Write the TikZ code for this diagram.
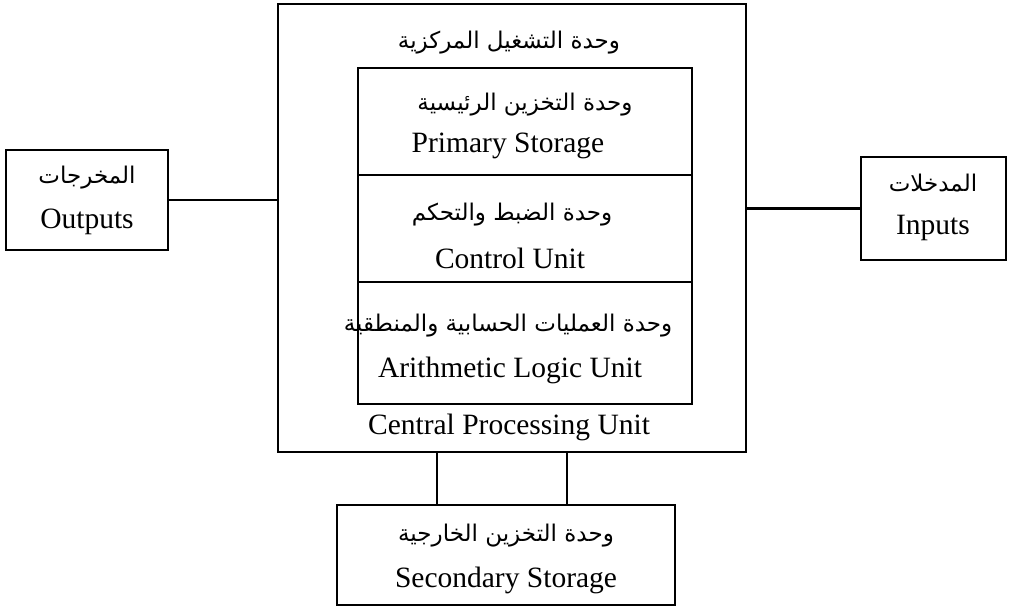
\documentclass[tikz,border=0pt]{standalone}
\usepackage{fontspec}
\setmainfont{Liberation Serif}
\newfontfamily\arabicfont[Script=Arabic]{DejaVu Sans}
\TeXXeTstate=1
\begin{document}
\begin{tikzpicture}[x=1pt,y=-1pt,
  box/.style={draw, line width=2.6pt, inner sep=0pt},
  en/.style={font=\fontsize{29.5}{32}\selectfont, inner sep=0pt},
  ar/.style={font=\arabicfont\fontsize{23}{26}\selectfont, inner sep=0pt},
  link/.style={line width=2.6pt}]
\useasboundingbox (0,0) rectangle (1012,611);
% boxes
\node[box, minimum width=468pt, minimum height=448pt] (cpu) at (512,228) {};
\node[box, minimum width=334pt, minimum height=107pt] (prim) at (525,121.5) {};
\node[box, minimum width=334pt, minimum height=107pt] (ctrl) at (525,228.5) {};
\node[box, minimum width=334pt, minimum height=122pt] (alu) at (525,343) {};
\node[box, minimum width=162pt, minimum height=100pt] (out) at (87,200) {};
\node[box, minimum width=145pt, minimum height=103pt] (inp) at (933.5,208.5) {};
\node[box, minimum width=338pt, minimum height=100pt] (sec) at (506,555) {};
% texts
\node[ar] (cpuar) at (509,43) {\beginR وحدة التشغيل المركزية\endR};
\node[en] (cpuen) at (509,427) {Central Processing Unit};
\node[ar] (primar) at (525,105) {\beginR وحدة التخزين الرئيسية\endR};
\node[en] (primen) at (508,146) {Primary Storage};
\node[ar] (ctrlar) at (512,215) {\beginR وحدة الضبط والتحكم\endR};
\node[en] (ctrlen) at (510,258) {Control Unit};
\node[ar] (aluar) at (508,326) {\beginR وحدة العمليات الحسابية والمنطقية\endR};
\node[en] (aluen) at (510,370) {Arithmetic Logic Unit};
\node[ar] (outar) at (87,178) {\beginR المخرجات\endR};
\node[en] (outen) at (87,222) {Outputs};
\node[ar] (inpar) at (933,183) {\beginR المدخلات\endR};
\node[en] (inpen) at (933,228) {Inputs};
\node[ar] (secar) at (506,536) {\beginR وحدة التخزين الخارجية\endR};
\node[en] (secen) at (506,580) {Secondary Storage};
% connectors
\draw[link] (out.east) -- (out.east -| cpu.west);
\draw[link] (inp.west) -- (inp.west -| cpu.east);
\coordinate (s1) at ([xshift=-69pt]sec.north);
\coordinate (s2) at ([xshift=61pt]sec.north);
\draw[link] (s1) -- (s1 |- cpu.south);
\draw[link] (s2) -- (s2 |- cpu.south);
\end{tikzpicture}
\end{document}
